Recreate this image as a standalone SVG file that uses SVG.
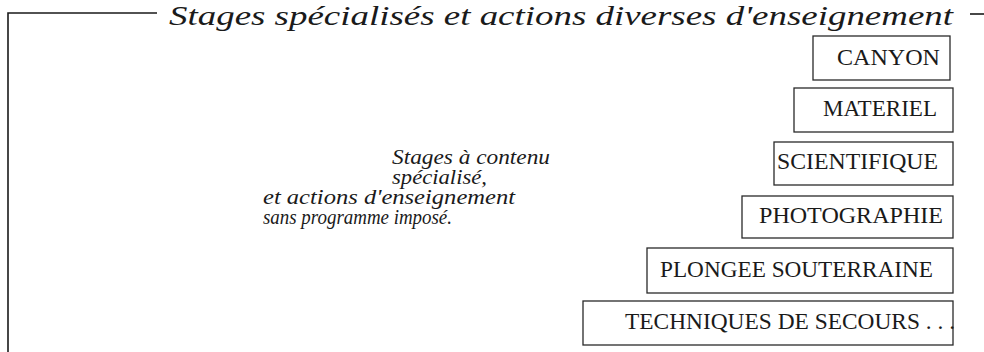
<svg xmlns="http://www.w3.org/2000/svg" width="984" height="352" viewBox="0 0 984 352">
<style>
.frame{fill:none;stroke:#1a1a1a;stroke-width:1.6}
.box{fill:#fff;stroke:#2a2a2a;stroke-width:1.3}
.lbl{font-family:"Liberation Serif","Times New Roman",serif;font-size:23px;fill:#1a1a1a}
.title{font-family:"Liberation Serif","Times New Roman",serif;font-style:italic;font-size:28px;fill:#1a1a1a}
.note{font-family:"Liberation Serif","Times New Roman",serif;font-style:italic;font-size:20px;fill:#1a1a1a}
</style>
<rect width="984" height="352" fill="#fff"/>
<g id="frame">
<path class="frame" d="M8,352 V13 H157"/>
<path class="frame" d="M970,14 H984"/>
<text class="title" x="169" y="25" textLength="784" lengthAdjust="spacingAndGlyphs">Stages spécialisés et actions diverses d'enseignement</text>
</g>
<g id="note">
<text class="note" x="392" y="164" textLength="158" lengthAdjust="spacingAndGlyphs">Stages à contenu</text>
<text class="note" x="392" y="184" textLength="95" lengthAdjust="spacingAndGlyphs">spécialisé,</text>
<text class="note" x="263" y="204" textLength="252" lengthAdjust="spacingAndGlyphs">et actions d'enseignement</text>
<text class="note" x="263" y="224" font-size="21" textLength="189" lengthAdjust="spacingAndGlyphs">sans programme imposé.</text>
</g>
<g id="canyon">
<rect class="box" x="813" y="36" width="137" height="44"/>
<text class="lbl" x="837" y="65" textLength="103" lengthAdjust="spacingAndGlyphs">CANYON</text>
</g>
<g id="materiel">
<rect class="box" x="794" y="88" width="159" height="44"/>
<text class="lbl" x="823" y="116" textLength="114" lengthAdjust="spacingAndGlyphs">MATERIEL</text>
</g>
<g id="scientifique">
<rect class="box" x="774" y="142" width="179" height="43"/>
<text class="lbl" x="777" y="169" textLength="161" lengthAdjust="spacingAndGlyphs">SCIENTIFIQUE</text>
</g>
<g id="photographie">
<rect class="box" x="742" y="196" width="211" height="42"/>
<text class="lbl" x="759" y="223" textLength="184" lengthAdjust="spacingAndGlyphs">PHOTOGRAPHIE</text>
</g>
<g id="plongee">
<rect class="box" x="647" y="248" width="306" height="45"/>
<text class="lbl" x="660" y="277" textLength="273" lengthAdjust="spacingAndGlyphs">PLONGEE SOUTERRAINE</text>
</g>
<g id="techniques">
<rect class="box" x="583" y="301" width="370" height="44"/>
<text class="lbl" x="625" y="329" textLength="330" lengthAdjust="spacingAndGlyphs">TECHNIQUES DE SECOURS . . .</text>
</g>
<g id="connectors"/>
</svg>
